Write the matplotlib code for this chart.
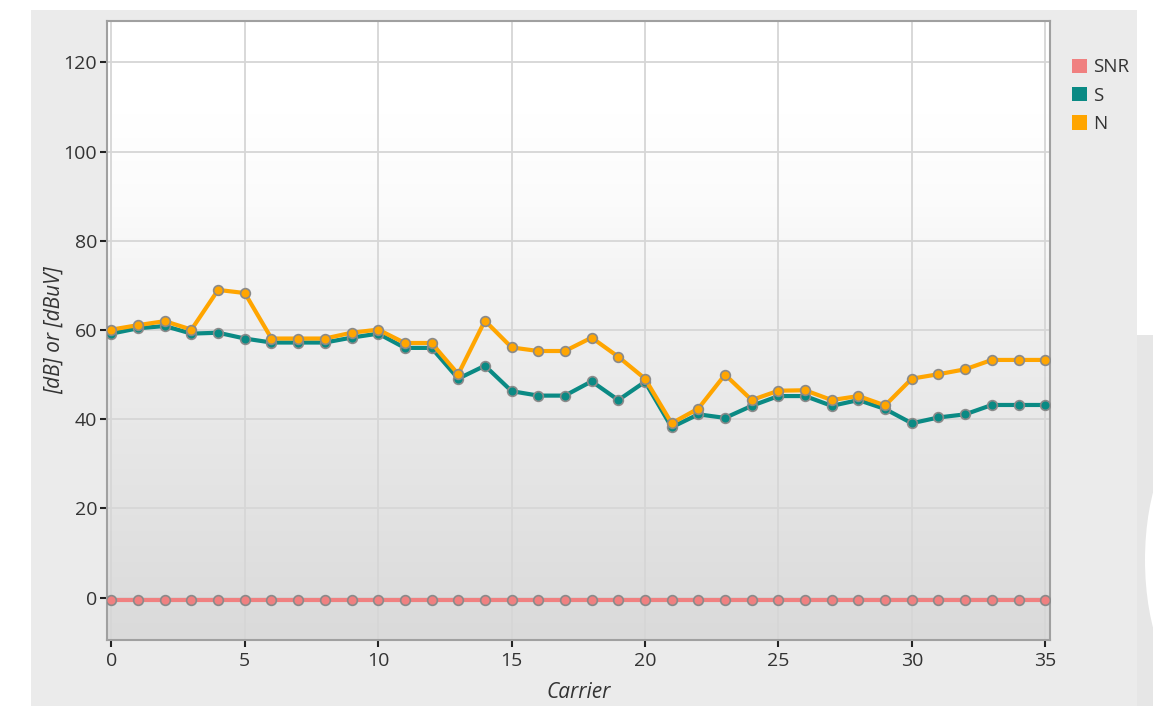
import numpy as np
import matplotlib
matplotlib.use("Agg")
import matplotlib.pyplot as plt
from matplotlib.patches import Rectangle, Ellipse
from matplotlib.colors import LinearSegmentedColormap

plt.rcParams['font.family'] = ['Open Sans', 'DejaVu Sans']

carriers = list(range(36))
snr = [-0.5] * 36
s_vals = [59.2, 60.4, 60.9, 59.2, 59.4, 58.1, 57.2, 57.2, 57.2, 58.3,
          59.2, 56.0, 56.0, 49.1, 52.0, 46.3, 45.3, 45.3, 48.5, 44.3,
          48.4, 38.2, 41.1, 40.3, 43.0, 45.2, 45.2, 43.0, 44.3, 42.3,
          39.1, 40.4, 41.1, 43.2, 43.2, 43.2]
n_vals = [60.1, 61.1, 62.0, 60.1, 69.0, 68.3, 58.1, 58.1, 58.1, 59.4,
          60.1, 57.1, 57.1, 50.1, 62.1, 56.1, 55.3, 55.3, 58.3, 54.0,
          49.1, 39.1, 42.4, 50.0, 44.3, 46.4, 46.5, 44.3, 45.2, 43.1,
          49.1, 50.1, 51.2, 53.3, 53.3, 53.3]
series_names = ["SNR", "S", "N"]
series_colors = ["#f08080", "#0a8a84", "#ffa500"]
xticks = [0, 5, 10, 15, 20, 25, 30, 35]
yticks = [0, 20, 40, 60, 80, 100, 120]

W, H = 1153, 706
fig = plt.figure(figsize=(W / 100, H / 100), dpi=100)
fig.patch.set_facecolor("white")

# grey panel
fig.patches.append(Rectangle((31 / W, 0), (1137 - 31) / W, (H - 10) / H,
                             transform=fig.transFigure, facecolor="#ebebeb",
                             edgecolor="none", zorder=-5))
# decoration at right edge
fig.patches.append(Rectangle((1137 / W, 0), (W - 1137) / W, (H - 335) / H,
                             transform=fig.transFigure, facecolor="#e6e6e6",
                             edgecolor="none", zorder=-5))
fig.patches.append(Ellipse((1200 / W, (H - 560) / H), 110 / W, 260 / H,
                           transform=fig.transFigure, facecolor="white",
                           edgecolor="none", zorder=-4))

ax = fig.add_axes([107 / W, (H - 640) / H, (1050 - 107) / W, (640 - 21) / H])
ax.set_zorder(1)
ax.set_xlim(-0.165, 35.18)
ax.set_ylim(-9.5, 129.3)

# gradient background
cmap = LinearSegmentedColormap.from_list(
    "bg", [(0.0, "#dadada"), (0.45, "#ececec"), (0.7, "#fbfbfb"), (0.85, "#ffffff"), (1.0, "#ffffff")])
grad = np.linspace(0, 1, 256).reshape(-1, 1)
ax.imshow(grad, aspect="auto", cmap=cmap, origin="lower",
          extent=[-0.165, 35.18, -9.5, 129.3], zorder=0)

ax.set_xticks(xticks)
ax.set_yticks(yticks)
ax.grid(True, color="#d6d6d6", linewidth=1.3, zorder=1)
ax.set_axisbelow(True)

for vals, name, col in zip([snr, s_vals, n_vals], series_names, series_colors):
    ax.plot(carriers, vals, color=col, linewidth=3.0, marker="o",
            markersize=7, markerfacecolor=col, markeredgecolor="#8a8a8a",
            markeredgewidth=1.2, zorder=3, label=name)

for sp in ax.spines.values():
    sp.set_color("#a0a0a0")
    sp.set_linewidth(1.5)

ax.tick_params(axis="both", colors="#222222", labelcolor="#333333",
               labelsize=14, length=5, width=1.5, direction="out")
ax.tick_params(axis="y", pad=2)
ax.tick_params(axis="x", pad=4)
ax.set_xlabel("Carrier", fontsize=15, style="italic", color="#333333",
              va="center")
ax.set_ylabel("[dB] or [dBuV]", fontsize=15, style="italic", color="#333333",
              va="center", ha="center")
ax.xaxis.set_label_coords(0.5, -(692 - 640) / 619)
ax.yaxis.set_label_coords((54 - 107) / 943, (640 - 330) / 619)

# legend
handles = [Rectangle((0, 0), 1, 1, facecolor=c, edgecolor="none") for c in series_colors]
leg = fig.legend(handles, series_names, loc="upper left",
                 bbox_to_anchor=(1064 / W, (H - 51) / H), frameon=False,
                 fontsize=13.5, handlelength=0.8, handleheight=0.8,
                 handletextpad=0.35, labelspacing=0.55, borderaxespad=0)
for t in leg.get_texts():
    t.set_color("#333333")

fig.savefig("out.png", dpi=100, facecolor=fig.get_facecolor())
